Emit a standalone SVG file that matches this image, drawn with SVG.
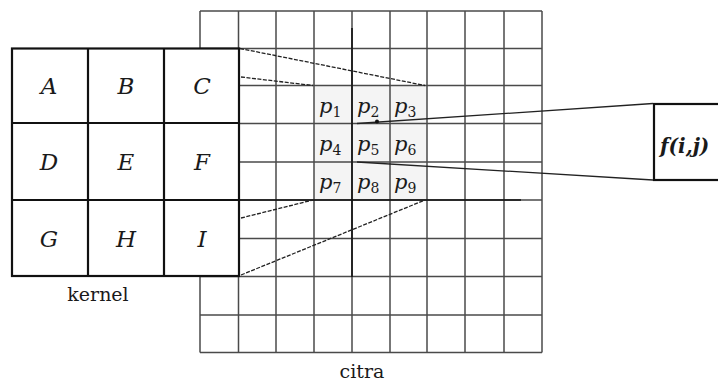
<svg xmlns="http://www.w3.org/2000/svg" width="718" height="385" viewBox="0 0 718 385">
<style>
text{font-family:'DejaVu Serif',serif;fill:#1a1a1a}
.grid line{stroke:#4a4a4a;stroke-width:1.5}
.dark{stroke:#111;stroke-width:1.6}
.kern{fill:#fff;stroke:#111;stroke-width:2.2}
.kl{stroke:#111;stroke-width:2.2}
.lt{font-style:italic;font-size:23px;text-anchor:middle}
.pt{font-style:italic;font-size:21px}
.sub{font-size:14px;font-style:normal}
.cap{font-size:19px;text-anchor:middle}
.fx{font-style:italic;font-weight:bold;font-size:20px}
.dash{stroke:#222;stroke-width:1.3;stroke-dasharray:4 1.5;fill:none}
.sol{stroke:#222;stroke-width:1.3;fill:none}
</style>
<rect width="718" height="385" fill="#fff"/>
<g id="citra">
<rect x="314" y="85.5" width="113" height="114.5" fill="#f4f4f4"/>
<g class="grid">
<line x1="200" y1="11" x2="200" y2="352.5"/>
<line x1="238.5" y1="11" x2="238.5" y2="352.5"/>
<line x1="276" y1="11" x2="276" y2="352.5"/>
<line x1="314" y1="11" x2="314" y2="352.5"/>
<line x1="352" y1="11" x2="352" y2="352.5"/>
<line x1="390" y1="11" x2="390" y2="352.5"/>
<line x1="427" y1="11" x2="427" y2="352.5"/>
<line x1="465" y1="11" x2="465" y2="352.5"/>
<line x1="504" y1="11" x2="504" y2="352.5"/>
<line x1="542" y1="11" x2="542" y2="352.5"/>
<line x1="200" y1="11" x2="542" y2="11"/>
<line x1="200" y1="48.5" x2="542" y2="48.5"/>
<line x1="200" y1="85.5" x2="542" y2="85.5"/>
<line x1="200" y1="123.5" x2="542" y2="123.5"/>
<line x1="200" y1="162" x2="542" y2="162"/>
<line x1="200" y1="200" x2="542" y2="200"/>
<line x1="200" y1="238.5" x2="542" y2="238.5"/>
<line x1="200" y1="276.5" x2="542" y2="276.5"/>
<line x1="200" y1="315" x2="542" y2="315"/>
<line x1="200" y1="352.5" x2="542" y2="352.5"/>
</g>
<line class="dark" x1="352" y1="28" x2="352" y2="277"/>
<line class="dark" x1="239" y1="200" x2="521" y2="200"/>
<text class="pt" x="319" y="113">p<tspan class="sub" dy="4">1</tspan></text>
<text class="pt" x="357" y="113">p<tspan class="sub" dy="4">2</tspan></text>
<text class="pt" x="394" y="113">p<tspan class="sub" dy="4">3</tspan></text>
<text class="pt" x="319" y="151">p<tspan class="sub" dy="4">4</tspan></text>
<text class="pt" x="357" y="151">p<tspan class="sub" dy="4">5</tspan></text>
<text class="pt" x="394" y="151">p<tspan class="sub" dy="4">6</tspan></text>
<text class="pt" x="319" y="189">p<tspan class="sub" dy="4">7</tspan></text>
<text class="pt" x="357" y="189">p<tspan class="sub" dy="4">8</tspan></text>
<text class="pt" x="394" y="189">p<tspan class="sub" dy="4">9</tspan></text>
<text class="cap" x="362" y="378">citra</text>
</g>
<g id="kernel">
<rect class="kern" x="12" y="48.5" width="227" height="227.5"/>
<line class="kl" x1="88" y1="48.5" x2="88" y2="276"/>
<line class="kl" x1="164" y1="48.5" x2="164" y2="276"/>
<line class="kl" x1="12" y1="123" x2="239" y2="123"/>
<line class="kl" x1="12" y1="200" x2="239" y2="200"/>
<text class="lt" x="49" y="94">A</text>
<text class="lt" x="126" y="94">B</text>
<text class="lt" x="202" y="94">C</text>
<text class="lt" x="49" y="170">D</text>
<text class="lt" x="126" y="170">E</text>
<text class="lt" x="202" y="170">F</text>
<text class="lt" x="49" y="247">G</text>
<text class="lt" x="126" y="247">H</text>
<text class="lt" x="202" y="247">I</text>
<text class="cap" x="98" y="301">kernel</text>
</g>
<g id="output">
<rect x="654" y="104" width="80" height="76" fill="#fff" stroke="#111" stroke-width="2.2"/>
<text class="fx" x="660" y="153">f(i,j)</text>
</g>
<g id="connectors">
<line class="dash" x1="240" y1="48.5" x2="425" y2="85.5"/>
<line class="dash" x1="241" y1="77" x2="313" y2="85.5"/>
<line class="dash" x1="241" y1="218" x2="313" y2="200"/>
<line class="dash" x1="241" y1="275" x2="425" y2="200"/>
<line class="sol" x1="357" y1="123.5" x2="653" y2="103.5"/>
<line class="sol" x1="357" y1="162" x2="653" y2="180"/>
<circle cx="377" cy="121.5" r="2" fill="#111"/>
</g>
</svg>
